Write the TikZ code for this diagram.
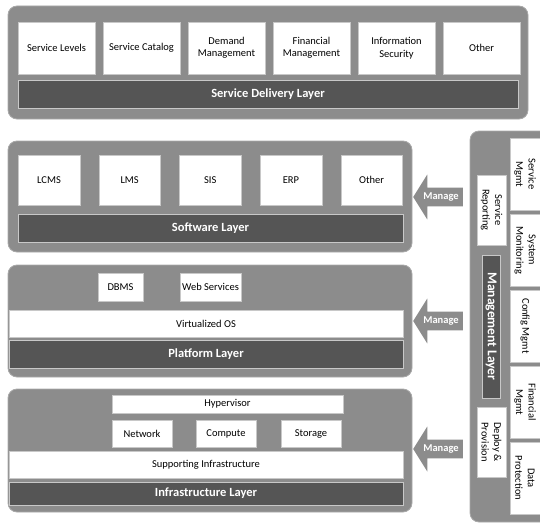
\documentclass[tikz,border=0pt]{standalone}
\usepackage{fontspec}
\setsansfont{Carlito}
\usetikzlibrary{positioning, shapes.arrows}
\definecolor{panelgray}{HTML}{8C8C8C}
\definecolor{bardark}{HTML}{555555}
\definecolor{boxline}{HTML}{C8C8C8}
\tikzset{%
  % Specifications for style of nodes:
         panel/.style = {rectangle, rounded corners=9pt, fill=panelgray,
                         draw=panelgray!75!white, line width=0.8pt},
          item/.style = {rectangle, fill=white, draw=boxline, inner sep=1pt,
                         align=center,
                         font=\sffamily\fontsize{10.5}{12.5}\selectfont},
      layerbar/.style = {rectangle, fill=bardark, draw=boxline, text=white,
                         inner sep=1pt,
                         font=\sffamily\bfseries\fontsize{12.5}{14}\selectfont},
      sideitem/.style = {item, rotate=-90},
        manage/.style = {single arrow, shape border rotate=180, fill=panelgray,
                         text=white, inner xsep=4pt, inner ysep=5pt,
                         single arrow head extend=13pt, single arrow tip angle=116,
                         minimum height=48pt,
                         font=\sffamily\bfseries\fontsize{10.5}{12}\selectfont},
}

\begin{document}
\begin{tikzpicture}[x=1pt, y=-1pt]
  \useasboundingbox (0,0) rectangle (540,524);
  \clip (0,0) rectangle (540,524);

  % Service delivery layer
  \node(deliveryPanel)  [panel, minimum width=520pt, minimum height=113pt] at (268,62.5) {};
  \node(serviceLevels)  [item, minimum width=77pt, minimum height=52pt] at (56.5,48) {Service Levels};
  \node(serviceCatalog) [item, minimum width=77pt, minimum height=52pt, right=7.6pt of serviceLevels] {Service Catalog};
  \node(demandMgmt)     [item, minimum width=77pt, minimum height=52pt, right=7.6pt of serviceCatalog] {Demand\\Management};
  \node(financialMgmt)  [item, minimum width=77pt, minimum height=52pt, right=7.6pt of demandMgmt] {Financial\\Management};
  \node(infoSecurity)   [item, minimum width=77pt, minimum height=52pt, right=7.6pt of financialMgmt] {Information\\Security};
  \node(deliveryOther)  [item, minimum width=77pt, minimum height=52pt, right=7.6pt of infoSecurity] {Other};
  \node(deliveryLayer)  [layerbar, minimum width=500pt, minimum height=28pt] at (268,94) {Service Delivery Layer};

  % Software layer
  \node(softwarePanel)  [panel, minimum width=404pt, minimum height=111pt] at (210,196.5) {};
  \node(lcms)           [item, minimum width=61.5pt, minimum height=50pt] at (49,180) {LCMS};
  \node(lms)            [item, minimum width=61.5pt, minimum height=50pt, right=18.75pt of lcms] {LMS};
  \node(sis)            [item, minimum width=61.5pt, minimum height=50pt, right=18.75pt of lms] {SIS};
  \node(erp)            [item, minimum width=61.5pt, minimum height=50pt, right=18.75pt of sis] {ERP};
  \node(softwareOther)  [item, minimum width=61.5pt, minimum height=50pt, right=18.75pt of erp] {Other};
  \node(softwareLayer)  [layerbar, minimum width=385pt, minimum height=28pt] at (210.5,228) {Software Layer};

  % Platform layer
  \node(platformPanel)  [panel, minimum width=404pt, minimum height=112pt] at (210,321) {};
  \node(dbms)           [item, minimum width=45pt, minimum height=28pt] at (120.5,287) {DBMS};
  \node(webServices)    [item, minimum width=61pt, minimum height=28pt] at (210.5,287) {Web Services};
  \node(virtualOS)      [item, minimum width=394pt, minimum height=27pt] at (206,323.5) {Virtualized OS};
  \node(platformLayer)  [layerbar, minimum width=394pt, minimum height=28pt] at (206,354) {Platform Layer};

  % Infrastructure layer
  \node(infraPanel)     [panel, minimum width=404pt, minimum height=123pt] at (210,450.5) {};
  \node(hypervisor)     [item, minimum width=231pt, minimum height=18pt] at (227.5,404) {Hypervisor};
  \node(network)        [item, minimum width=60pt, minimum height=27pt] at (142,433.5) {Network};
  \node(compute)        [item, minimum width=60pt, minimum height=27pt] at (226,433.5) {Compute};
  \node(storage)        [item, minimum width=60pt, minimum height=27pt] at (311,433.5) {Storage};
  \node(supporting)     [item, minimum width=394pt, minimum height=27pt] at (206,464.5) {Supporting Infrastructure};
  \node(infraLayer)     [layerbar, minimum width=394pt, minimum height=23pt] at (206,493.5) {Infrastructure Layer};

  % Management layer
  \node(mgmtPanel)      [panel, minimum width=90pt, minimum height=391pt] at (515,326.5) {};
  \node(serviceMgmt)    [sideitem, minimum width=72pt, minimum height=30pt] at (525,174) {Service\\Mgmt};
  \node(sysMonitoring)  [sideitem, minimum width=72pt, minimum height=30pt] at (525,250) {System\\Monitoring};
  \node(configMgmt)     [sideitem, minimum width=72pt, minimum height=30pt] at (525,326) {Config Mgmt};
  \node(finMgmt)        [sideitem, minimum width=72pt, minimum height=30pt] at (525,402) {Financial\\Mgmt};
  \node(dataProtection) [sideitem, minimum width=72pt, minimum height=30pt] at (525,478) {Data\\Protection};
  \node(serviceReport)  [sideitem, minimum width=70pt, minimum height=29pt] at (491.5,210) {Service\\Reporting};
  \node(mgmtLayer)      [layerbar, rotate=-90, minimum width=143pt, minimum height=18pt, inner sep=0pt,
                         font=\sffamily\bfseries\fontsize{13.5}{15}\selectfont] at (491,326.5) {Management Layer};
  \node(deployProv)     [sideitem, minimum width=70pt, minimum height=29pt] at (491.5,442) {Deploy \&\\Provision};

  % Manage arrows from the management layer to the layers
  \node(manageSoftware) [manage] at (441,197) {Manage};
  \node(managePlatform) [manage] at (441,321) {Manage};
  \node(manageInfra)    [manage] at (441,449) {Manage};

\end{tikzpicture}
\end{document}
